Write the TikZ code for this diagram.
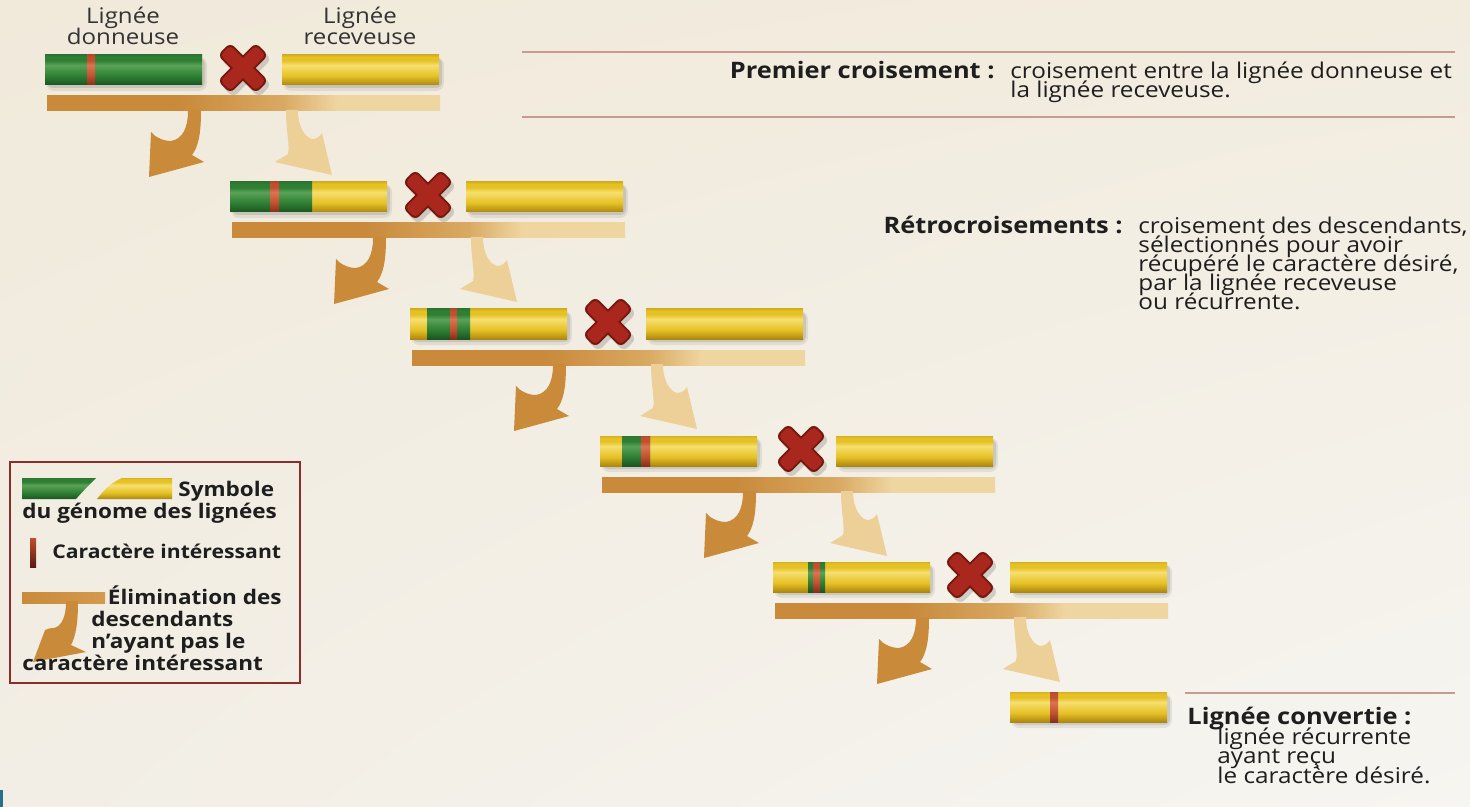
\documentclass[tikz,border=0pt]{standalone}
\usepackage{fontspec}
\setmainfont{Open Sans}[FakeStretch=1.12]
\usetikzlibrary{shadings}
\definecolor{bgTL}{HTML}{F1EADB}
\definecolor{bgTR}{HTML}{F2ECDF}
\definecolor{bgBL}{HTML}{F2EEE5}
\definecolor{bgBR}{HTML}{F6F5F1}
\definecolor{yT}{HTML}{D6B21E}
\definecolor{yH}{HTML}{F6DF6E}
\definecolor{yM}{HTML}{E5C125}
\definecolor{yB}{HTML}{AD8710}
\definecolor{gT}{HTML}{2D7531}
\definecolor{gH}{HTML}{5AA257}
\definecolor{gM}{HTML}{2E7E33}
\definecolor{gB}{HTML}{1B5620}
\definecolor{rT}{HTML}{B34A2C}
\definecolor{rH}{HTML}{DB7452}
\definecolor{rM}{HTML}{C0502E}
\definecolor{rB}{HTML}{85301A}
\definecolor{rDark}{HTML}{5A1A10}
\definecolor{bandL}{HTML}{C98A3B}
\definecolor{bandM}{HTML}{D9A962}
\definecolor{bandR}{HTML}{EFD6A1}
\definecolor{legBandR}{HTML}{D49A4C}
\definecolor{arrL}{HTML}{C98A3A}
\definecolor{arrR}{HTML}{EDCF98}
\definecolor{crossF}{HTML}{A9271C}
\definecolor{crossD}{HTML}{761810}
\definecolor{rule}{HTML}{C99A92}
\definecolor{legframe}{HTML}{8B2D2D}
\definecolor{txt}{HTML}{1E1E1E}
\definecolor{lbltxt}{HTML}{333333}
\definecolor{tealmark}{HTML}{2A6F8A}
\pgfdeclareverticalshading{ycyl}{100bp}{color(0bp)=(yB); color(25bp)=(yB); color(40bp)=(yM); color(58bp)=(yH); color(66bp)=(yM); color(72bp)=(yM); color(75bp)=(yT); color(100bp)=(yT)}
\pgfdeclareverticalshading{gcyl}{100bp}{color(0bp)=(gB); color(25bp)=(gB); color(40bp)=(gM); color(58bp)=(gH); color(66bp)=(gM); color(72bp)=(gM); color(75bp)=(gT); color(100bp)=(gT)}
\pgfdeclareverticalshading{rcyl}{100bp}{color(0bp)=(rB); color(25bp)=(rB); color(40bp)=(rM); color(58bp)=(rH); color(66bp)=(rM); color(72bp)=(rM); color(75bp)=(rT); color(100bp)=(rT)}
\pgfdeclarehorizontalshading{bandsh}{100bp}{color(0bp)=(bandL); color(25bp)=(bandL); color(42bp)=(bandL); color(55bp)=(bandM); color(62bp)=(bandR); color(75bp)=(bandR); color(100bp)=(bandR)}
\newcommand\fs[1]{\fontsize{#1}{#1}\selectfont}
% full bar: x, y(top), name
\newcommand\genobar[3]{%
  \fill[black,opacity=.07,rounded corners=4] (#1+1,#2+2) rectangle (#1+162,#2+36);
  \fill[black,opacity=.10,rounded corners=3] (#1+2,#2+3) rectangle (#1+160,#2+33);
  \shade[shading=ycyl] (#1,#2) rectangle (#1+157,#2+30);
  \coordinate (#3) at (#1+78.5,#2+15);}
% segment: x1, x2, y(top), shading
\newcommand\seg[4]{\shade[shading=#4] (#1,#3) rectangle (#2,#3+30);}
% cross: x, y, name
\newcommand\crossmark[3]{%
  \foreach \a in {45,-45}{\begin{scope}[shift={(#1+3,#2+4)},rotate=\a]
    \fill[black,opacity=.15,rounded corners=3] (-27,-9) rectangle (27,9);\end{scope}}
  \foreach \a in {45,-45}{\begin{scope}[shift={(#1,#2)},rotate=\a]
    \fill[crossD,rounded corners=3] (-27,-9) rectangle (27,9);\end{scope}}
  \foreach \a in {45,-45}{\begin{scope}[shift={(#1,#2)},rotate=\a]
    \fill[crossF,rounded corners=2] (-25,-7) rectangle (25,7);\end{scope}}
  \coordinate (#3) at (#1,#2);}
% band: x, y(top), name
\newcommand\band[3]{%
  \shade[shading=bandsh] (#1+2,#2+41) rectangle (#1+395,#2+56);
  \coordinate (#3) at (#1+198,#2+48);}
% arrows (stem centre at band bottom)
\newcommand\dropL[2]{\begin{scope}[shift={(#1,#2)}]
  \fill[arrL] (-7,-1) -- (-7,0) .. controls (-7,16) and (-12,28) .. (-24,30) .. controls (-32,30) and (-40,26) .. (-44,21) -- (-46,66) -- (9,51) -- (-3,44) .. controls (3,36) and (6,24) .. (6,0) -- (6,-1) -- cycle;
  \end{scope}}
\newcommand\dropR[2]{\begin{scope}[shift={(#1,#2)}]
  \fill[arrR] (6,-1) -- (6,0) .. controls (6,14) and (12,26) .. (20,28) .. controls (25,28) and (28,25) .. (30,22) -- (40,64) -- (-17,51) -- (-4,43) .. controls (-2,34) and (-6,20) .. (-6,0) -- (-6,-1) -- cycle;
  \end{scope}}
\begin{document}
\begin{tikzpicture}[x=0.5pt,y=-0.5pt,
  lbl/.style={text=lbltxt,font=\fs{10.75},inner sep=0},
  ttl/.style={text=txt,font=\bfseries\fs{11.35},inner sep=0},
  dsc/.style={text=txt,font=\fs{10.85},inner sep=0,anchor=base west},
  leg/.style={text=txt,font=\bfseries\fs{10.05},inner sep=0},
  rulestyle/.style={draw=rule,line width=0.8pt}]
\useasboundingbox (0,0) rectangle (1470,807);
\shade[upper left=bgTL,upper right=bgTR,lower left=bgBL,lower right=bgBR] (0,0) rectangle (1470,807);
\fill[tealmark] (0,790) rectangle (3,807);

% ---------- labels ----------
\node[lbl,anchor=base] (don1) at (123,24) {Lignée};
\node[lbl,anchor=base] (don2) at (123,45) {donneuse};
\node[lbl,anchor=base] (rec1) at (360,24) {Lignée};
\node[lbl,anchor=base] (rec2) at (360,45) {receveuse};

% ---------- row 0 ----------
\genobar{45}{55}{L0}
\seg{45}{202}{55}{gcyl}
\seg{87}{95}{55}{rcyl}
\crossmark{243}{68}{X0}
\genobar{282}{55}{R0}
\band{45}{55}{B0}
\dropL{195}{111}
\dropR{292}{111}

% ---------- row 1 ----------
\genobar{230}{182}{L1}
\seg{230}{312}{182}{gcyl}
\seg{270}{279}{182}{rcyl}
\crossmark{428}{195}{X1}
\genobar{466}{182}{R1}
\band{230}{182}{B1}
\dropL{380}{238}
\dropR{477}{238}

% ---------- row 2 ----------
\genobar{410}{309}{L2}
\seg{427}{470}{309}{gcyl}
\seg{450}{457}{309}{rcyl}
\crossmark{608}{322}{X2}
\genobar{646}{309}{R2}
\band{410}{309}{B2}
\dropL{560}{365}
\dropR{657}{365}

% ---------- row 3 ----------
\genobar{600}{436}{L3}
\seg{622}{650}{436}{gcyl}
\seg{641}{650}{436}{rcyl}
\crossmark{801}{449}{X3}
\genobar{836}{436}{R3}
\band{600}{436}{B3}
\dropL{750}{492}
\dropR{847}{492}

% ---------- row 4 ----------
\genobar{773}{562}{L4}
\seg{808}{825}{562}{gcyl}
\seg{813}{820}{562}{rcyl}
\crossmark{970}{575}{X4}
\genobar{1010}{562}{R4}
\band{773}{562}{B4}
\dropL{923}{618}
\dropR{1020}{618}

% ---------- final ----------
\genobar{1010}{692}{F}
\seg{1050}{1058}{692}{rcyl}

% ---------- rules and texts ----------
\draw[rulestyle] (522,52) -- (1455,52);
\draw[rulestyle] (522,117) -- (1455,117);
\node[ttl,anchor=base east] (t1) at (995,79) {Premier croisement :};
\node[dsc] (d11) at (1010,79) {croisement entre la lignée donneuse et};
\node[dsc] (d12) at (1010,98) {la lignée receveuse.};

\node[ttl,anchor=base east] (t2) at (1123,234) {Rétrocroisements :};
\node[dsc] (d21) at (1138,234) {croisement des descendants,};
\node[dsc] (d22) at (1138,253) {sélectionnés pour avoir};
\node[dsc] (d23) at (1138,272) {récupéré le caractère désiré,};
\node[dsc] (d24) at (1138,291) {par la lignée receveuse};
\node[dsc] (d25) at (1138,310) {ou récurrente.};

\draw[rulestyle] (1185,693) -- (1455,693);
\node[ttl,anchor=base west] (t3) at (1187,724) {Lignée convertie :};
\node[dsc] (d31) at (1217,744) {lignée récurrente};
\node[dsc] (d32) at (1217,763) {ayant reçu};
\node[dsc] (d33) at (1217,783) {le caractère désiré.};

% ---------- legend ----------
\draw[draw=legframe,line width=1.25pt] (10,462) rectangle (300,683);
\shade[shading=gcyl] (22,478) -- (96,478) .. controls (90,484) and (84,490) .. (76,499) -- (22,499) -- cycle;
\shade[shading=ycyl] (97,499) .. controls (104,490) and (112,482) .. (122,478) -- (172,478) -- (172,499) -- cycle;
\node[leg,anchor=base west] (lg1) at (178,496) {Symbole};
\node[leg,anchor=base west] (lg2) at (22,518) {du génome des lignées};
\shade[top color=rM,bottom color=rDark] (30,538) rectangle (36,567);
\node[leg,anchor=base west,font=\bfseries\fs{9.45}] (lg3) at (52,558) {Caractère intéressant};
\shade[left color=bandL,right color=legBandR] (22,592) rectangle (105,603);
\begin{scope}[shift={(72,602)}]
\fill[arrL] (-6,-1) -- (-6,0) .. controls (-6,14) and (-10,24) .. (-18,26) .. controls (-22,26) and (-25,27) .. (-27,28) -- (-39,60) -- (14,50) -- (-1,43) .. controls (4,34) and (6,20) .. (6,0) -- (6,-1) -- cycle;
\end{scope}
\node[leg,anchor=base east] (lg4) at (282,604) {Élimination des};
\node[leg,anchor=base west] (lg5) at (91,626) {descendants};
\node[leg,anchor=base west] (lg6) at (91,648) {n’ayant pas le};
\node[leg,anchor=base west] (lg7) at (22,670) {caractère intéressant};
\end{tikzpicture}
\end{document}
